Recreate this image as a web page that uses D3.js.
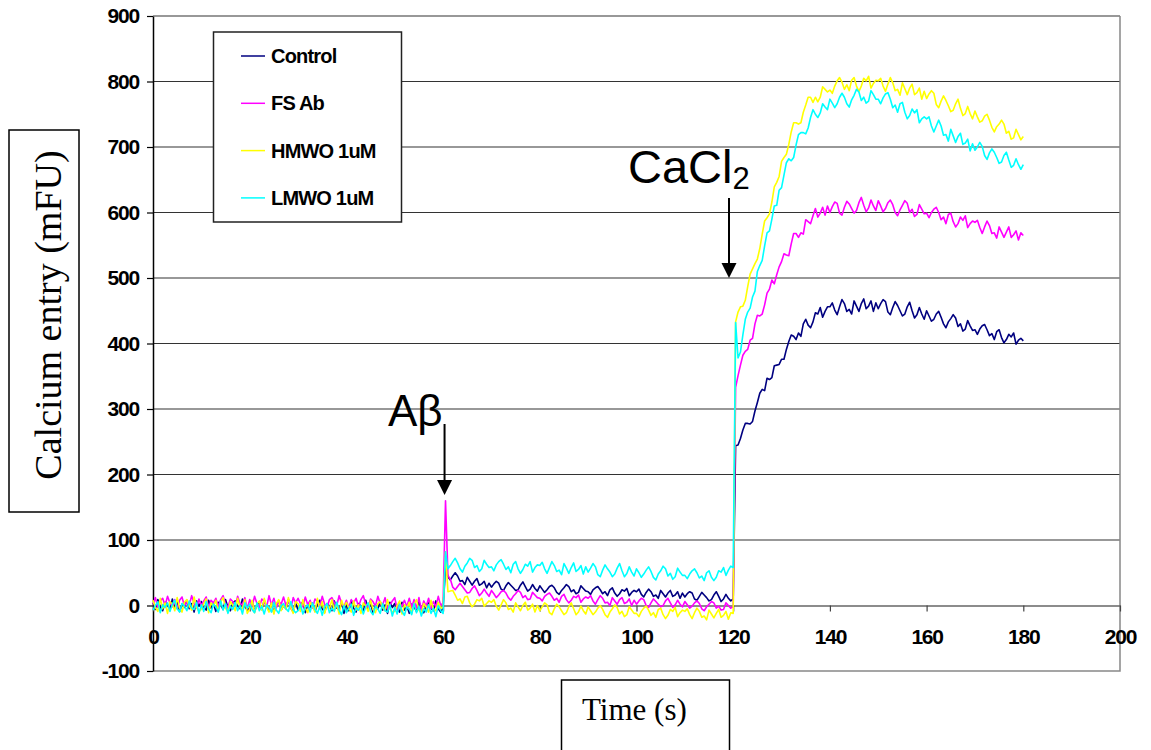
<!DOCTYPE html>
<html>
<head>
<meta charset="utf-8">
<script src="https://cdn.jsdelivr.net/npm/d3@7"></script>
<style>
  body { margin: 0; background: #fff; }
  svg { display: block; }
  .tick text { font-family: "Liberation Sans", Arial, sans-serif; font-weight: bold; font-size: 21px; letter-spacing: -1.2px; fill: #000; }
</style>
</head>
<body>
<div id="chart1"></div>
<script>
var SVGWidth = 1151;
var SVGHeight = 750;

// samples were taken every half second, t = 0 .. 180 s
var sampleStep = 0.5;

var seriesNames = ["Control", "FS Ab", "HMWO 1uM", "LMWO 1uM"];
var seriesColors = ["#000080", "#ff00ff", "#ffff00", "#00ffff"];

var yTicks = [-100, 0, 100, 200, 300, 400, 500, 600, 700, 800, 900];
var xTicks = [0, 20, 40, 60, 80, 100, 120, 140, 160, 180, 200];

var control = [
    4,-6,9,-2,-8,5,1,-7,10,-4,6,-9,2,-3,8,-5,3,-10,7,-1,
    6,-2,-7,8,-4,3,-9,5,1,-6,9,-3,-8,4,7,-1,-5,10,-2,-7,
    -4,6,-9,1,5,-6,8,-2,-8,3,-11,2,7,-7,0,-5,9,-3,-10,4,
    -7,0,6,-11,1,-3,4,-9,2,8,-5,-10,3,-1,-8,7,-4,-6,5,-12,
    2,-8,7,-4,-10,3,-1,-9,8,-6,4,-11,0,-5,6,-7,1,-12,5,-3,
    3,-5,-10,5,-7,0,-12,2,-2,-9,6,-6,-11,1,4,-4,-8,7,-5,-10,
    -4,58,44,39,45,50,45,37,38,32,43,37,31,37,41,31,33,37,27,34,
    28,33,37,34,25,23,30,35,31,27,23,24,31,36,29,22,25,32,26,22,
    30,25,20,24,29,31,27,20,17,23,27,32,29,21,24,18,20,30,26,22,
    21,17,24,27,29,24,18,21,15,24,27,19,14,18,24,22,26,15,20,23,
    21,25,17,13,20,25,21,14,16,11,23,18,13,19,23,14,16,21,11,19,
    13,18,21,19,10,8,14,20,16,12,7,9,16,21,14,6,10,17,11,7,
    10,244,245,255,268,278,278,277,281,297,310,324,330,328,347,345,348,366,367,368,
    376,376,391,403,413,411,406,416,411,430,437,428,424,433,447,445,455,440,449,456,
    456,462,451,444,456,467,461,449,452,445,465,457,449,461,468,453,457,465,449,462,
    453,461,467,464,448,444,455,464,458,450,442,445,456,463,450,439,444,455,445,437,
    450,442,434,437,445,449,440,430,424,433,438,444,439,426,430,419,422,435,427,420,
    421,414,422,427,429,421,412,415,406,418,421,409,401,406,414,410,416,399,405,408,
    404
];

var fsAb = [
    2,12,-3,7,11,0,14,4,-2,9,-5,8,13,-1,6,1,15,3,-4,10,
    0,7,13,-4,8,4,11,-2,9,15,2,-3,10,6,-1,14,3,1,12,-5,
    9,-1,14,3,-3,10,6,-2,15,1,11,-4,7,2,13,0,8,-5,12,4,
    11,3,-2,13,1,8,-4,10,6,-1,14,2,-3,9,12,4,0,15,3,-2,
    8,-4,9,4,11,-2,9,15,2,-3,10,6,-1,14,3,1,12,-5,0,7,
    12,-6,3,-1,8,-2,11,-3,9,-4,12,-7,7,-1,11,-5,6,-2,14,0,
    4,160,46,40,28,24,29,34,29,24,19,20,26,30,23,15,19,25,19,14,
    23,18,12,16,21,23,19,12,8,14,18,23,20,12,15,9,10,20,16,12,
    11,7,14,17,19,14,8,11,5,14,17,9,4,8,14,12,16,5,10,13,
    11,15,7,2,9,15,11,4,5,0,12,7,2,9,12,3,5,10,0,8,
    2,7,11,9,0,-3,4,10,6,2,-2,0,7,11,4,-3,1,8,2,-2,
    6,1,-4,-1,4,7,3,-5,-8,-2,2,6,4,-4,-1,-7,-6,4,0,-4,
    -2,333,351,367,382,388,391,405,408,430,443,442,445,459,477,483,497,491,505,517,
    525,537,535,534,552,568,568,562,569,567,589,586,583,595,606,593,599,608,596,610,
    600,609,616,614,599,596,608,617,613,606,599,603,615,623,611,601,607,619,610,603,
    618,610,601,606,615,619,612,600,595,604,611,618,614,600,605,594,597,612,605,598,
    599,592,600,605,608,600,589,593,583,597,599,586,578,583,593,588,595,577,583,587,
    585,588,577,568,578,587,580,568,569,561,578,570,562,570,578,562,566,572,558,569,
    565
];

var hmwo = [
    8,-3,-9,11,-5,4,-12,6,2,-8,12,-4,-10,5,9,-1,-7,13,-3,-9,
    -6,3,10,-11,4,-1,8,-9,5,12,-4,-10,6,1,-8,11,-3,-5,9,-12,
    -5,8,-11,2,7,-7,11,-2,-10,4,-13,3,9,-8,1,-6,12,-3,-12,6,
    3,-9,9,-4,-11,5,-1,-10,11,-6,6,-12,1,-5,9,-8,2,-13,8,-3,
    5,-4,-10,7,-7,1,-12,4,-1,-9,8,-6,-11,3,6,-3,-8,9,-5,-10,
    -9,0,7,-13,1,-4,5,-12,2,9,-7,-12,3,-2,-10,8,-6,-8,5,-4,
    -3,82,21,22,23,16,8,10,3,13,14,4,-2,2,9,7,11,-1,3,7,
    5,9,-1,-7,1,9,4,-6,-4,-10,4,-2,-8,0,5,-7,-4,2,-10,0,
    -8,-2,4,1,-11,-14,-5,2,-2,-8,-14,-11,-2,4,-5,-14,-10,-1,-8,-13,
    -2,-8,-14,-10,-4,0,-6,-14,-18,-10,-5,1,-3,-13,-9,-17,-14,-2,-7,-12,
    -12,-17,-9,-4,-1,-7,-15,-11,-18,-6,-4,-14,-20,-15,-6,-9,-3,-17,-11,-7,
    -9,-5,-14,-20,-11,-4,-9,-18,-16,-22,-7,-13,-19,-12,-6,-18,-15,-9,-21,-11,
    -12,433,448,456,457,466,487,506,514,522,529,545,567,587,592,598,616,639,646,655,
    678,684,689,704,723,737,737,735,737,753,764,776,776,768,776,769,776,792,788,784,
    787,782,793,801,806,799,788,795,786,802,806,793,785,793,805,801,808,790,797,802,
    801,805,793,785,796,806,798,786,788,779,798,789,780,790,796,780,783,790,773,785,
    774,781,786,782,765,760,770,778,771,763,754,756,766,773,759,748,751,762,751,743,
    755,746,738,740,747,750,741,730,723,731,735,741,735,721,724,712,714,727,719,711,
    716
];

var lmwo = [
    -7,0,6,-11,1,-3,4,-9,2,8,-5,-10,3,-1,-8,7,-4,-6,5,-12,
    1,-9,6,-5,-11,2,-2,-10,7,-7,3,-12,-1,-6,5,-8,0,-13,4,-4,
    2,-6,-11,4,-8,-1,-13,1,-3,-10,5,-7,-12,0,3,-5,-9,6,-6,-11,
    -8,2,-13,-3,1,-10,4,-6,-12,-1,-15,-2,3,-11,-4,-9,5,-7,-14,0,
    -11,-4,2,-15,-3,-7,0,-13,-2,4,-9,-14,-1,-5,-12,3,-8,-10,1,-16,
    -3,-13,2,-9,-15,-2,-6,-14,3,-11,-1,-16,-5,-10,1,-12,-4,-17,0,-8,
    -12,82,56,61,67,72,65,56,51,60,65,72,69,58,61,52,56,69,63,58,
    59,53,62,67,70,63,55,59,50,63,67,56,49,55,63,60,67,51,58,62,
    61,66,56,49,58,67,61,52,54,47,64,57,49,58,65,52,55,61,48,59,
    51,57,64,59,47,44,54,62,56,51,44,48,57,64,53,44,49,59,51,45,
    56,50,43,48,54,59,52,43,39,48,53,60,56,45,49,40,44,57,51,46,
    46,41,48,53,56,50,42,45,38,50,53,43,38,43,53,51,58,46,54,60,
    58,432,378,387,413,437,448,454,471,480,510,519,527,549,569,572,590,610,611,634,
    638,657,676,682,679,684,703,719,722,722,720,729,745,757,750,745,752,766,761,757,
    773,767,760,766,776,782,776,766,761,772,779,788,784,771,776,767,770,786,780,773,
    773,766,775,781,783,773,760,764,753,766,768,753,743,748,758,752,757,737,743,746,
    743,746,732,723,732,741,732,718,719,709,727,717,707,716,721,704,706,712,694,705,
    695,700,707,701,687,681,691,697,692,684,675,677,687,692,680,669,672,682,673,666,
    673
];

var allSeries = [control, fsAb, hmwo, lmwo];

var svg = d3.select("#chart1")
    .append("svg")
        .attr("width", SVGWidth)
        .attr("height", SVGHeight);

svg.append("rect")
    .attr("width", SVGWidth)
    .attr("height", SVGHeight)
    .attr("fill", "#fff");

var x = d3.scaleLinear()
    .domain([0, 200])
    .range([153, 1120]);

var y = d3.scaleLinear()
    .domain([-100, 900])
    .range([671, 16]);

// gridlines
svg.append("g")
    .selectAll("line")
    .data(yTicks.filter(function(d) { return d > 0; }))
    .enter()
    .append("line")
        .attr("x1", x(0))
        .attr("x2", x(200))
        .attr("y1", function(d) { return y(d); })
        .attr("y2", function(d) { return y(d); })
        .attr("stroke", "#333")
        .attr("stroke-width", 1.2);

// plot area border (right + bottom)
svg.append("path")
    .attr("d", "M" + x(200) + "," + y(900) + "V" + y(-100) + "H" + x(0))
    .attr("fill", "none")
    .attr("stroke", "#888")
    .attr("stroke-width", 1.5);

// plain hyphen for negatives, like the original
var plainFormat = function(d) { return String(d); };

// Left axis
var yAxis = svg.append("g")
    .attr("transform", "translate(" + x(0) + ",0)")
    .call(d3.axisLeft(y).tickValues(yTicks).tickFormat(plainFormat)
        .tickSize(6).tickSizeOuter(0).tickPadding(8));
yAxis.select(".domain").attr("stroke", "#000").attr("stroke-width", 1.5);
yAxis.selectAll(".tick line").attr("stroke", "#000").attr("stroke-width", 1.2);

// Bottom axis, sitting on y = 0
var xAxis = svg.append("g")
    .attr("transform", "translate(0," + y(0) + ")")
    .call(d3.axisBottom(x).tickValues(xTicks).tickFormat(plainFormat)
        .tickSize(6).tickSizeOuter(0).tickPadding(18));
xAxis.select(".domain").attr("stroke", "#666").attr("stroke-width", 1.5);
xAxis.selectAll(".tick line").attr("stroke", "#444").attr("stroke-width", 1.2);

// data lines
var line = d3.line()
    .x(function(d, i) { return x(i * sampleStep); })
    .y(function(d) { return y(d); });

for (var s = 0; s < allSeries.length; s++) {
    svg.append("path")
        .datum(allSeries[s])
        .attr("fill", "none")
        .attr("stroke", seriesColors[s])
        .attr("stroke-width", 1.6)
        .attr("stroke-linejoin", "round")
        .attr("d", line);
}

// Legend
var legend = svg.append("g");
legend.append("rect")
    .attr("x", 213.5)
    .attr("y", 32)
    .attr("width", 188)
    .attr("height", 190)
    .attr("fill", "#fff")
    .attr("stroke", "#222")
    .attr("stroke-width", 1.5);

var legendRows = legend.selectAll("g.row")
    .data(seriesNames)
    .enter()
    .append("g")
        .attr("class", "row")
        .attr("transform", function(d, i) { return "translate(0," + (56 + i * 47.3) + ")"; });

legendRows.append("line")
    .attr("x1", 241)
    .attr("x2", 265)
    .attr("stroke", function(d, i) { return seriesColors[i]; })
    .attr("stroke-width", 1.5);

legendRows.append("text")
    .attr("x", 271)
    .attr("dy", "0.35em")
    .style("font-family", "'Liberation Sans', Arial, sans-serif")
    .style("font-weight", "bold")
    .style("font-size", "20px")
    .style("letter-spacing", "-0.8px")
    .text(function(d) { return d; });

// Annotations with arrows
function drawArrow(xPos, y1, y2) {
    svg.append("line")
        .attr("x1", xPos).attr("x2", xPos)
        .attr("y1", y1).attr("y2", y2 - 14)
        .attr("stroke", "#000")
        .attr("stroke-width", 2);
    svg.append("path")
        .attr("d", "M" + (xPos - 7.5) + "," + (y2 - 15) + "L" + (xPos + 7.5) + "," + (y2 - 15) + "L" + xPos + "," + y2 + "Z")
        .attr("fill", "#000");
}

svg.append("text")
    .attr("x", 388)
    .attr("y", 426)
    .style("font-family", "'Liberation Sans', Arial, sans-serif")
    .style("font-size", "44px")
    .text("Aβ");
drawArrow(x(60.3), 424, 495);

var cacl = svg.append("text")
    .attr("x", 628)
    .attr("y", 183)
    .style("font-family", "'Liberation Sans', Arial, sans-serif")
    .style("font-size", "47px")
    .text("CaCl");
cacl.append("tspan")
    .attr("dy", 6)
    .style("font-size", "31px")
    .text("2");
drawArrow(729, 198, 278);

// Y axis title box
svg.append("rect")
    .attr("x", 9)
    .attr("y", 130)
    .attr("width", 70)
    .attr("height", 382)
    .attr("fill", "#fff")
    .attr("stroke", "#000")
    .attr("stroke-width", 1.5);
svg.append("text")
    .attr("transform", "translate(61," + 315 + ") rotate(-90)")
    .attr("text-anchor", "middle")
    .style("font-family", "'Liberation Serif', 'Times New Roman', serif")
    .style("font-size", "38px")
    .text("Calcium entry (mFU)");

// X axis title box
svg.append("rect")
    .attr("x", 561.5)
    .attr("y", 680)
    .attr("width", 168)
    .attr("height", 80)
    .attr("fill", "#fff")
    .attr("stroke", "#000")
    .attr("stroke-width", 1.5);
svg.append("text")
    .attr("x", 582)
    .attr("y", 720)
    .style("font-family", "'Liberation Serif', 'Times New Roman', serif")
    .style("font-size", "31px")
    .text("Time (s)");
</script>
</body>
</html>
